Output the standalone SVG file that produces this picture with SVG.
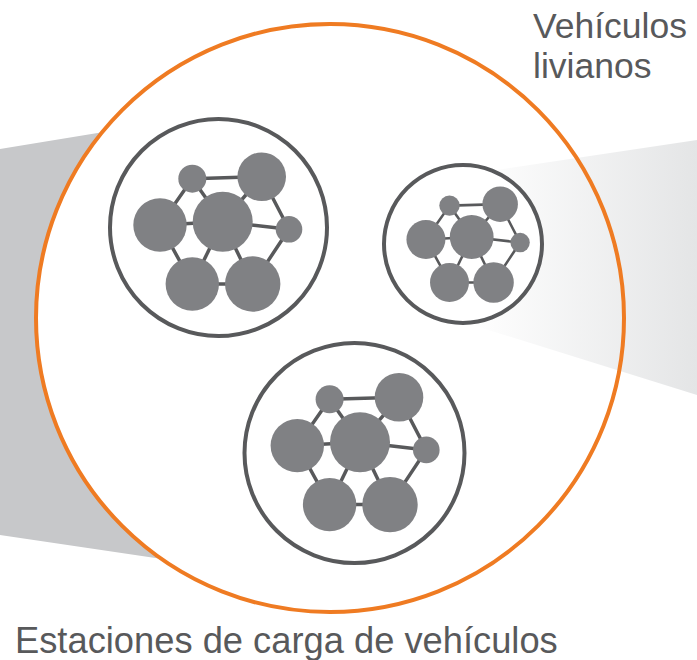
<svg xmlns="http://www.w3.org/2000/svg" xmlns:xlink="http://www.w3.org/1999/xlink" width="697" height="660" viewBox="0 0 697 660">
  <style>
    .ring { fill: #ffffff; stroke: #58595b; stroke-width: 4; }
    .link { stroke: #58595b; stroke-width: 3.5; fill: none; }
    .atom { fill: #808184; }
    .label { font-family: "Liberation Sans", Arial, sans-serif; font-size: 35.5px; fill: #58595b; }
    .label-big { font-size: 36.3px; }
  </style>
  <defs>
    <linearGradient id="beam" gradientUnits="userSpaceOnUse" x1="470" y1="0" x2="697" y2="0">
      <stop offset="0" stop-color="#ffffff"/>
      <stop offset="1" stop-color="#e4e5e6"/>
    </linearGradient>
    <g id="mol">
      <g class="link">
        <polyline points="-30.4,-43 39,-45 66.3,7.6 30,62.3 -30.4,62.3 -62.7,3.3 -30.4,-43"/>
        <line x1="0" y1="0" x2="-30.4" y2="-43"/>
        <line x1="0" y1="0" x2="39" y2="-45"/>
        <line x1="0" y1="0" x2="66.3" y2="7.6"/>
        <line x1="0" y1="0" x2="30" y2="62.3"/>
        <line x1="0" y1="0" x2="-30.4" y2="62.3"/>
        <line x1="0" y1="0" x2="-62.7" y2="3.3"/>
      </g>
      <g class="atom">
        <circle cx="0" cy="0" r="30"/>
        <circle cx="-30.4" cy="-43" r="14"/>
        <circle cx="39" cy="-45" r="24.3"/>
        <circle cx="66.3" cy="7.6" r="13.3"/>
        <circle cx="30" cy="62.3" r="27.7"/>
        <circle cx="-30.4" cy="62.3" r="26.7"/>
        <circle cx="-62.7" cy="3.3" r="26.7"/>
      </g>
    </g>
  </defs>

  <g id="background">
    <polygon points="0,149 250,108 250,572 0,535" fill="#c7c8ca"/>
    <circle cx="330" cy="318" r="294" fill="#ffffff"/>
    <polygon points="463,175 697,140 697,395 463,322" fill="url(#beam)"/>
  </g>

  <g id="stations-boundary">
    <circle cx="330" cy="318" r="294" fill="none" stroke="#ef7b22" stroke-width="4"/>
  </g>

  <g id="connectors"></g>

  <g id="cluster-1">
    <circle class="ring" cx="218.5" cy="227.5" r="108.5"/>
    <use xlink:href="#mol" href="#mol" transform="translate(222.7,221.7)"/>
  </g>

  <g id="cluster-2">
    <circle class="ring" cx="463" cy="244" r="79"/>
    <use xlink:href="#mol" href="#mol" transform="translate(471.7,237) scale(0.73)"/>
  </g>

  <g id="cluster-3">
    <circle class="ring" cx="354.5" cy="453" r="110"/>
    <use xlink:href="#mol" href="#mol" transform="translate(360,442.3)"/>
  </g>

  <g id="labels">
    <text class="label" x="533" y="38">Vehículos</text>
    <text class="label" x="533" y="78">livianos</text>
    <text class="label label-big" x="15" y="653">Estaciones de carga de vehículos</text>
  </g>
</svg>
